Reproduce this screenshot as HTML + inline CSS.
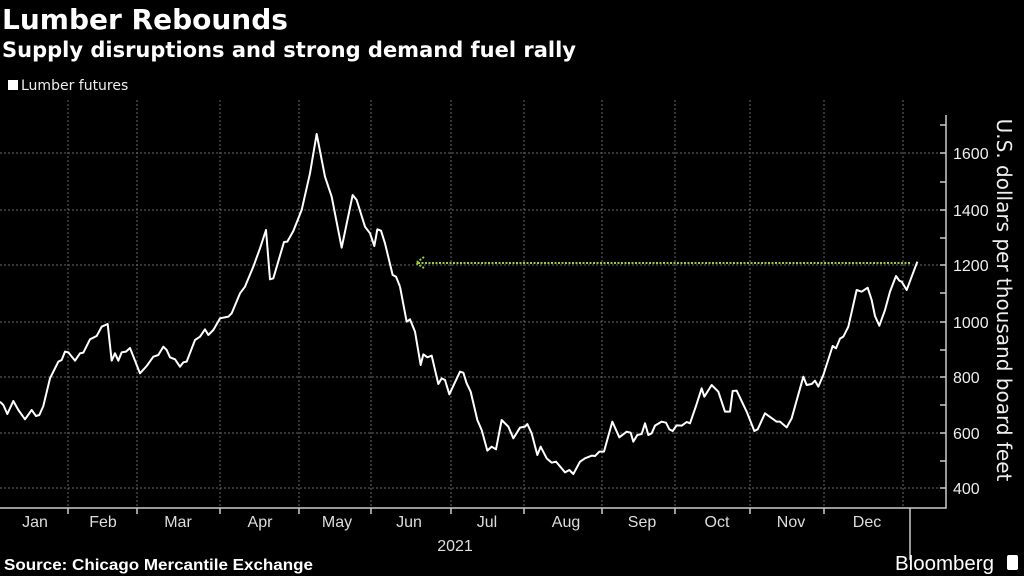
<!DOCTYPE html>
<html><head><meta charset="utf-8"><style>
body{margin:0;background:#000;width:1024px;height:576px;overflow:hidden;font-family:"DejaVu Sans","Liberation Sans",sans-serif;color:#fff}
.t{position:absolute;white-space:nowrap}
</style></head><body>
<div class="t" style="left:2px;top:3px;font-size:28px;font-weight:bold">Lumber Rebounds</div>
<div class="t" style="left:2px;top:38px;font-size:21px;font-weight:bold">Supply disruptions and strong demand fuel rally</div>
<div class="t" style="left:8px;top:78px;font-size:14px;color:#eee"><span style="display:inline-block;width:10px;height:10px;background:#fff;margin-right:3px"></span>Lumber futures</div>
<svg width="1024" height="576" style="position:absolute;left:0;top:0">
<g stroke="#666" stroke-width="1" stroke-dasharray="2,2">
<line x1="0" y1="153" x2="946" y2="153"/><line x1="0" y1="210" x2="946" y2="210"/><line x1="0" y1="265" x2="946" y2="265"/><line x1="0" y1="322" x2="946" y2="322"/><line x1="0" y1="377" x2="946" y2="377"/><line x1="0" y1="433" x2="946" y2="433"/><line x1="0" y1="488" x2="946" y2="488"/>
<line x1="68" y1="100" x2="68" y2="508"/><line x1="137" y1="100" x2="137" y2="508"/><line x1="220" y1="100" x2="220" y2="508"/><line x1="299" y1="100" x2="299" y2="508"/><line x1="371" y1="100" x2="371" y2="508"/><line x1="451" y1="100" x2="451" y2="508"/><line x1="524" y1="100" x2="524" y2="508"/><line x1="602" y1="100" x2="602" y2="508"/><line x1="675" y1="100" x2="675" y2="508"/><line x1="750" y1="100" x2="750" y2="508"/><line x1="824" y1="100" x2="824" y2="508"/><line x1="903" y1="100" x2="903" y2="508"/>
</g>
<g stroke="#ccc" stroke-width="1.5" fill="none">
<polyline points="946,115 946,508 0,508"/>
<line x1="940" y1="125" x2="946" y2="125"/><line x1="940" y1="153" x2="946" y2="153"/><line x1="940" y1="182" x2="946" y2="182"/><line x1="940" y1="210" x2="946" y2="210"/><line x1="940" y1="238" x2="946" y2="238"/><line x1="940" y1="265" x2="946" y2="265"/><line x1="940" y1="293" x2="946" y2="293"/><line x1="940" y1="322" x2="946" y2="322"/><line x1="940" y1="350" x2="946" y2="350"/><line x1="940" y1="377" x2="946" y2="377"/><line x1="940" y1="405" x2="946" y2="405"/><line x1="940" y1="433" x2="946" y2="433"/><line x1="940" y1="461" x2="946" y2="461"/><line x1="940" y1="488" x2="946" y2="488"/>
<line x1="68" y1="508" x2="68" y2="514"/><line x1="137" y1="508" x2="137" y2="514"/><line x1="220" y1="508" x2="220" y2="514"/><line x1="299" y1="508" x2="299" y2="514"/><line x1="371" y1="508" x2="371" y2="514"/><line x1="451" y1="508" x2="451" y2="514"/><line x1="524" y1="508" x2="524" y2="514"/><line x1="602" y1="508" x2="602" y2="514"/><line x1="675" y1="508" x2="675" y2="514"/><line x1="750" y1="508" x2="750" y2="514"/><line x1="824" y1="508" x2="824" y2="514"/><line x1="910" y1="508" x2="910" y2="560"/>
</g>
<line x1="418" y1="263" x2="910" y2="263" stroke="#9acd32" stroke-width="2" stroke-dasharray="2,1.5"/>
<polyline points="424,257 416,263 424,268" stroke="#9acd32" stroke-width="2" fill="none" stroke-dasharray="2,1.5"/>
<g fill="none" stroke="#fff" stroke-width="2" stroke-linejoin="round">
<polyline transform="translate(0,120) scale(0.33333)" style="vector-effect:non-scaling-stroke" points="0,845 10,855 22,882 40,843 55,870 75,898 95,870 108,888 118,885 130,858 150,775 175,725 185,720 195,695 205,697 225,722 240,700 250,698 270,658 290,648 305,620 323,612 335,722 345,700 355,722 365,697 378,695 390,684 420,760 440,738 460,710 475,705 490,680 500,690 510,712 525,718 540,740 550,727 560,725 585,660 600,650 615,628 625,645 640,630 660,595 685,590 695,580 720,520 735,500 760,440 780,385 798,330 810,478 820,475 852,366 862,365 880,333 905,270 930,160 950,42 975,170 995,230 1025,383 1058,225 1070,240 1095,320 1110,340 1123,378 1132,328 1143,332 1155,370 1178,465 1188,470 1200,500"/>
<polyline transform="translate(400,240) scale(0.33333)" style="vector-effect:non-scaling-stroke" points="0,140 20,245 30,238 45,275 62,375 70,343 82,352 95,347 115,432 125,415 135,420 148,463 180,395 190,398 200,430 212,455 232,540 245,570 262,632 275,620 288,628 305,540 325,560 340,595 360,563 375,560 382,552 395,580 412,645 422,620 440,655 455,668 468,665 495,697 508,690 520,702 540,665 555,655 575,647 585,648 598,635 612,635 637,545 658,592 680,575 692,578 700,605 712,585 725,582 735,550 745,585 755,580 765,557 785,545 798,548 808,568 818,573 830,556 845,557 860,546 870,550 888,498 905,445 913,470 935,435 955,455 975,515 990,515 998,453 1010,452 1040,515 1063,573 1073,568 1095,520 1130,545 1140,545 1160,562 1175,535 1210,410 1220,435 1235,432 1245,422 1255,440 1270,405 1298,318 1308,325 1320,296 1330,290 1345,260 1370,150 1385,155 1403,143 1415,180 1425,228 1438,257 1455,210 1470,155 1488,108 1498,122 1505,125 1520,150 1535,110 1552,65"/>
</g>
<g fill="#eee" font-size="16" font-family="Liberation Sans, sans-serif">
<text x="953" y="159">1600</text><text x="953" y="216">1400</text><text x="953" y="271">1200</text><text x="953" y="328">1000</text><text x="953" y="383">800</text><text x="953" y="439">600</text><text x="953" y="494">400</text>
</g>
<text transform="translate(997,300) rotate(90)" text-anchor="middle" fill="#eee" font-size="20" font-family="DejaVu Sans, Liberation Sans, sans-serif">U.S. dollars per thousand board feet</text>
<g fill="#ddd" font-size="16" text-anchor="middle" font-family="Liberation Sans, sans-serif">
<text x="35" y="527">Jan</text><text x="103" y="527">Feb</text><text x="178" y="527">Mar</text><text x="260" y="527">Apr</text><text x="337" y="527">May</text><text x="409" y="527">Jun</text><text x="487" y="527">Jul</text><text x="566" y="527">Aug</text><text x="642" y="527">Sep</text><text x="717" y="527">Oct</text><text x="791" y="527">Nov</text><text x="867" y="527">Dec</text>
<text x="455" y="551">2021</text>
</g>
<text x="4" y="570" fill="#fff" font-size="16" font-weight="bold" font-family="Liberation Sans, sans-serif" textLength="309" lengthAdjust="spacingAndGlyphs">Source: Chicago Mercantile Exchange</text>
<text x="895" y="570" fill="#fff" font-size="20" font-family="Liberation Sans, sans-serif" textLength="99" lengthAdjust="spacingAndGlyphs">Bloomberg</text>
<rect x="1007" y="555" width="11" height="15" rx="2" fill="#fff"/>
</svg>
</body></html>
